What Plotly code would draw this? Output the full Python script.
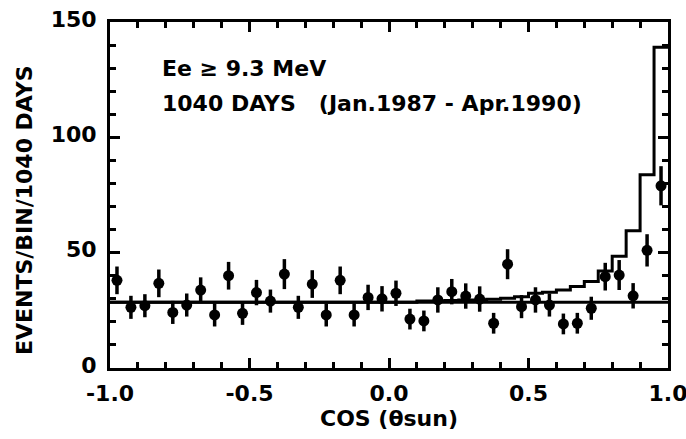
import plotly.graph_objects as go

# Bin centres of cos(theta_sun), 40 bins of width 0.05
cos_centers = [-0.975, -0.925, -0.875, -0.825, -0.775, -0.725, -0.675, -0.625, -0.575, -0.525,
               -0.475, -0.425, -0.375, -0.325, -0.275, -0.225, -0.175, -0.125, -0.075, -0.025,
               0.025, 0.075, 0.125, 0.175, 0.225, 0.275, 0.325, 0.375, 0.425, 0.475,
               0.525, 0.575, 0.625, 0.675, 0.725, 0.775, 0.825, 0.875, 0.925, 0.975]

events = [38.0, 26.3, 27.0, 36.7, 24.1, 27.3, 33.8, 23.0, 40.0, 23.7,
          32.7, 29.0, 40.7, 26.3, 36.4, 23.0, 38.0, 23.0, 30.6, 30.0,
          32.4, 21.2, 20.4, 29.5, 33.1, 31.2, 29.9, 19.4, 45.0, 26.6,
          29.5, 27.3, 19.1, 19.4, 25.9, 39.6, 40.3, 31.3, 51.0, 79.0]

errors = [6.0, 5.0, 5.0, 6.0, 5.0, 5.0, 5.5, 5.0, 6.0, 5.0,
          5.5, 5.0, 6.5, 5.0, 6.0, 5.0, 6.0, 5.0, 5.5, 5.5,
          5.5, 4.5, 4.5, 5.5, 5.5, 5.5, 5.5, 4.5, 6.5, 5.0,
          5.5, 5.0, 4.5, 4.5, 5.0, 6.0, 6.5, 5.5, 7.0, 8.5]

# Expected distribution (background + solar signal), per bin, starting at bin edges
bin_edges = [-1.0, -0.95, -0.9, -0.85, -0.8, -0.75, -0.7, -0.65, -0.6, -0.55,
             -0.5, -0.45, -0.4, -0.35, -0.3, -0.25, -0.2, -0.15, -0.1, -0.05,
             0.0, 0.05, 0.1, 0.15, 0.2, 0.25, 0.3, 0.35, 0.4, 0.45,
             0.5, 0.55, 0.6, 0.65, 0.7, 0.75, 0.8, 0.85, 0.9, 0.95, 1.0]
expected = [28.5, 28.5, 28.5, 28.5, 28.5, 28.5, 28.5, 28.5, 28.5, 28.5,
            28.5, 28.5, 28.5, 28.5, 28.5, 28.5, 28.5, 28.5, 28.5, 28.5,
            28.5, 28.5, 29.0, 29.0, 29.3, 29.5, 29.5, 29.8, 30.2, 30.9,
            32.4, 32.8, 33.8, 35.3, 37.5, 42.0, 48.4, 59.5, 83.8, 139.0]

background_level = 28.5
x_range = [-1.0, 1.0]
y_range = [0, 150]
x_ticks = [-1.0, -0.5, 0.0, 0.5, 1.0]
x_ticklabels = ["-1.0", "-0.5", "0.0", "0.5", "1.0"]
y_ticks = [0, 50, 100, 150]

FONT = "DejaVu Sans"
BOLD = dict(family=FONT, size=22, color="black", weight="bold")

fig = go.Figure()

# flat background line
fig.add_trace(go.Scatter(
    x=x_range, y=[background_level, background_level], mode="lines",
    line=dict(color="black", width=3), showlegend=False, hoverinfo="skip"))

# expected histogram (step line)
fig.add_trace(go.Scatter(
    x=bin_edges, y=expected + [expected[-1]], mode="lines",
    line=dict(color="black", width=3, shape="hv"), showlegend=False))

# data points
fig.add_trace(go.Scatter(
    x=cos_centers, y=events, mode="markers",
    marker=dict(color="black", size=11, symbol="circle"),
    error_y=dict(type="data", array=errors, color="black", thickness=3.5, width=0),
    showlegend=False, cliponaxis=False))

# invisible trace on mirrored axes (top / right ticks)
fig.add_trace(go.Scatter(x=x_range, y=y_range, xaxis="x2", yaxis="y2", mode="markers",
                         marker=dict(opacity=0), showlegend=False, hoverinfo="skip"))

fig.add_annotation(x=-0.82, y=130, xref="x", yref="y", text="Ee ≥ 9.3 MeV",
                   showarrow=False, xanchor="left", yanchor="middle", font=BOLD)
fig.add_annotation(x=-0.82, y=114.5, xref="x", yref="y",
                   text="1040 DAYS   (Jan.1987 - Apr.1990)",
                   showarrow=False, xanchor="left", yanchor="middle", font=BOLD)
fig.add_annotation(x=-0.152, y=0.457, xref="paper", yref="paper",
                   text="EVENTS/BIN/1040 DAYS", textangle=-90,
                   showarrow=False, xanchor="center", yanchor="middle", font=BOLD)

fig.update_layout(
    width=686, height=439,
    margin=dict(l=110, r=18, t=22, b=71),
    paper_bgcolor="white", plot_bgcolor="white",
    showlegend=False,
    xaxis=dict(
        range=x_range, tickvals=x_ticks, ticktext=x_ticklabels,
        ticks="inside", ticklen=10, tickwidth=3, tickcolor="black",
        minor=dict(dtick=0.1, ticks="inside", ticklen=6, tickwidth=2.5, tickcolor="black"),
        showline=True, linewidth=3, linecolor="black",
        showgrid=False, zeroline=False, automargin=False,
        tickfont=BOLD, ticklabelstandoff=4, ticklabeloverflow="allow",
        title=dict(text="COS (θsun)", font=BOLD, standoff=6)),
    yaxis=dict(
        range=y_range, tickvals=y_ticks,
        ticks="inside", ticklen=10, tickwidth=3, tickcolor="black",
        minor=dict(dtick=10, ticks="inside", ticklen=6, tickwidth=2.5, tickcolor="black"),
        showline=True, linewidth=3, linecolor="black",
        showgrid=False, zeroline=False, automargin=False,
        tickfont=BOLD, ticklabelstandoff=6, ticklabelshift=-3),
    xaxis2=dict(
        range=x_range, overlaying="x", side="top", anchor="y",
        tickvals=x_ticks, showticklabels=False,
        ticks="inside", ticklen=10, tickwidth=3, tickcolor="black",
        minor=dict(dtick=0.1, ticks="inside", ticklen=6, tickwidth=2.5, tickcolor="black"),
        showline=True, linewidth=3, linecolor="black",
        showgrid=False, zeroline=False, automargin=False),
    yaxis2=dict(
        range=y_range, overlaying="y", side="right", anchor="x",
        tickvals=y_ticks, showticklabels=False,
        ticks="inside", ticklen=10, tickwidth=3, tickcolor="black",
        minor=dict(dtick=10, ticks="inside", ticklen=6, tickwidth=2.5, tickcolor="black"),
        showline=True, linewidth=3, linecolor="black",
        showgrid=False, zeroline=False, automargin=False),
)

fig.write_html("out.html", config={"displayModeBar": False},
               post_script="document.body.style.margin='0';")
